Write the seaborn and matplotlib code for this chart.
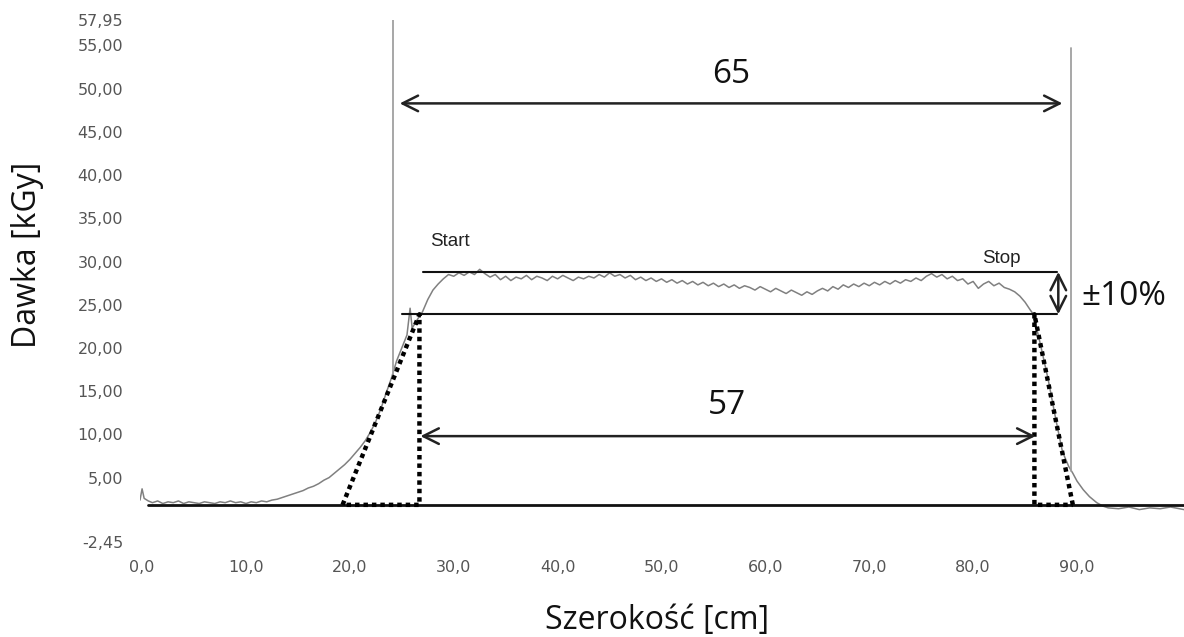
import numpy as np
import pandas as pd
import matplotlib
matplotlib.use('Agg')
import matplotlib.pyplot as plt
import seaborn as sns

# Dose profile (x in cm, dose in kGy)
edge_left_x = [-0.2, 0.0, 0.2, 0.6, 1.0, 1.5, 2.0, 2.5, 3.0, 3.5, 4.0, 4.5, 5.0, 5.5, 6.0, 6.5, 7.0, 7.5,
               8.0, 8.5, 9.0, 9.5, 10.0, 10.5, 11.0, 11.5, 12.0, 12.5, 13.0, 13.5, 14.0, 14.5, 15.0, 15.5,
               16.0, 16.5, 17.0, 17.5, 18.0, 18.5, 19.0, 19.5, 20.0, 20.5, 21.0, 21.5, 22.0, 22.5, 23.0,
               23.5, 24.0, 24.2, 24.5, 25.0, 25.5, 25.8, 26.0, 26.5, 27.0, 27.5, 28.0, 28.5]
edge_left_y = [2.4, 3.7, 2.6, 2.3, 2.1, 2.3, 2.0, 2.2, 2.1, 2.3, 2.0, 2.2, 2.1, 2.0, 2.2, 2.1, 2.0, 2.2,
               2.1, 2.3, 2.1, 2.2, 2.0, 2.2, 2.1, 2.3, 2.2, 2.4, 2.5, 2.7, 2.9, 3.1, 3.3, 3.5,
               3.8, 4.0, 4.3, 4.7, 5.0, 5.5, 6.0, 6.5, 7.1, 7.8, 8.5, 9.3, 10.3, 11.5, 13.0,
               14.8, 16.5, 17.3, 18.5, 20.0, 21.5, 24.6, 22.3, 23.3, 24.2, 25.6, 26.7, 27.4]

plateau_x = list(np.arange(29.0, 85.51, 0.5))
plateau_y = [28.0, 28.5, 28.3, 28.7, 28.4, 28.8, 28.5, 29.1, 28.6, 28.2, 28.5, 27.9, 28.3, 27.8, 28.2,
             28.0, 28.4, 27.9, 28.3, 28.1, 27.8, 28.3, 28.0, 28.4, 28.1, 27.8, 28.2, 28.0, 28.3, 28.1,
             28.5, 28.2, 28.7, 28.3, 28.5, 28.1, 28.4, 27.9, 28.2, 27.8, 28.1, 27.7, 28.0, 27.6, 27.9,
             27.5, 27.8, 27.4, 27.7, 27.3, 27.6, 27.2, 27.5, 27.1, 27.4, 27.0, 27.3, 26.9, 27.2, 27.0,
             26.7, 27.1, 26.8, 26.5, 26.9, 26.6, 26.3, 26.7, 26.4, 26.1, 26.5, 26.2, 26.6, 26.9, 26.6,
             27.1, 26.8, 27.3, 27.0, 27.4, 27.1, 27.5, 27.2, 27.6, 27.3, 27.7, 27.4, 27.8, 27.5, 27.9,
             27.7, 28.1, 27.8, 28.3, 28.6, 28.2, 28.5, 28.0, 28.3, 27.8, 28.0, 27.4, 27.7, 26.9, 27.4,
             27.7, 27.2, 27.5, 27.0, 26.8, 26.5, 26.0, 25.3, 24.4]

edge_right_x = [85.8, 86.5, 87.2, 88.0, 88.6, 89.2, 89.6, 90.0, 90.6, 91.2, 91.9, 92.5, 93.0, 94.0,
                95.0, 96.0, 97.0, 98.0, 99.0, 100.3]
edge_right_y = [23.9, 20.3, 16.5, 11.5, 8.0, 6.3, 5.5, 4.6, 3.6, 2.8, 2.1, 1.7, 1.5, 1.4,
                1.6, 1.3, 1.5, 1.4, 1.6, 1.3]

# annotation values
base_level = 1.85
upper_level = 28.8
lower_level = 23.9
cursor_left, cursor_right = 24.2, 89.4
width_full = (24.8, 88.6)
width_flat = (26.8, 86.0)
dot_left = (19.3, 26.7)
dot_right = (85.9, 89.6)

y_ticks = [-2.45, 5, 10, 15, 20, 25, 30, 35, 40, 45, 50, 55, 57.95]
x_ticks = [0, 10, 20, 30, 40, 50, 60, 70, 80, 90]

df = pd.DataFrame({'x': edge_left_x + plateau_x + edge_right_x,
                   'y': edge_left_y + plateau_y + edge_right_y})

sns.set_theme(style='white')
plt.rcParams['font.family'] = ['DejaVu Sans']

fig = plt.figure(figsize=(11.84, 6.37), dpi=100)
ax = fig.add_axes([140 / 1184, 95 / 637, 1044 / 1184, 522 / 637])

sns.lineplot(data=df, x='x', y='y', ax=ax, color='#808080', linewidth=1.1, sort=False)

# cursor lines
ax.plot([cursor_left, cursor_left], [16.6, 57.95], color='#a0a0a0', lw=1.3)
ax.plot([cursor_right, cursor_right], [5.8, 54.7], color='#a0a0a0', lw=1.3)

# reference lines
ax.plot([0.6, 100.3], [base_level, base_level], color='#111111', lw=2)
ax.plot([27.0, 88.1], [upper_level, upper_level], color='#111111', lw=1.5)
ax.plot([25.0, 88.1], [lower_level, lower_level], color='#111111', lw=1.5)

# dotted construction lines
dot_kw = dict(color='black', lw=3.2, linestyle=(0, (1, 0.9)))
ax.plot([dot_left[0], dot_left[1], dot_left[1], dot_left[0]],
        [base_level, lower_level, base_level, base_level], **dot_kw)
ax.plot([dot_right[1], dot_right[0], dot_right[0], dot_right[1]],
        [base_level, lower_level, base_level, base_level], **dot_kw)

# dimension arrows
arr = dict(arrowstyle='<->', color='#222222', lw=1.8, mutation_scale=28, shrinkA=0, shrinkB=0)
ax.annotate('', xy=(width_full[0], 48.3), xytext=(width_full[1], 48.3), arrowprops=arr)
ax.annotate('', xy=(width_flat[0], 9.8), xytext=(width_flat[1], 9.8), arrowprops=arr)
ax.annotate('', xy=(88.2, upper_level), xytext=(88.2, lower_level), arrowprops=arr)

big = dict(family='Open Sans', fontsize=24, color='#111111', ha='center', va='center')
ax.text(56.7, 51.6, '65', **big)
ax.text(56.3, 13.4, '57', **big)
ax.text(94.5, 25.9, '±10%', **big)

small = dict(family='Liberation Sans', fontsize=13.5, color='#222222', va='center')
ax.text(27.7, 32.3, 'Start', ha='left', **small)
ax.text(80.9, 30.4, 'Stop', ha='left', **small)

ax.set_xlim(-0.2, 100.3)
ax.set_ylim(-2.45, 57.95)
ax.set_yticks(y_ticks)
ax.set_yticklabels([f'{v:.2f}'.replace('.', ',') for v in y_ticks])
ax.set_xticks(x_ticks)
ax.set_xticklabels([f'{v:.1f}'.replace('.', ',') for v in x_ticks])
ax.tick_params(axis='y', length=0, pad=12, labelsize=11.5, labelcolor='#555555')
ax.tick_params(axis='x', length=0, pad=13, labelsize=11.5, labelcolor='#555555')
ax.set_xlabel('')
ax.set_ylabel('')
for s in ax.spines.values():
    s.set_visible(False)

fig.text(657 / 1184, 1 - 620 / 637, 'Szerokość [cm]', family='Open Sans', fontsize=23,
         ha='center', va='center', color='#111111')
fig.text(28 / 1184, 1 - 255 / 637, 'Dawka [kGy]', family='Open Sans', fontsize=23,
         ha='center', va='center', rotation=90, color='#111111')

fig.savefig('out.png', dpi=100)
